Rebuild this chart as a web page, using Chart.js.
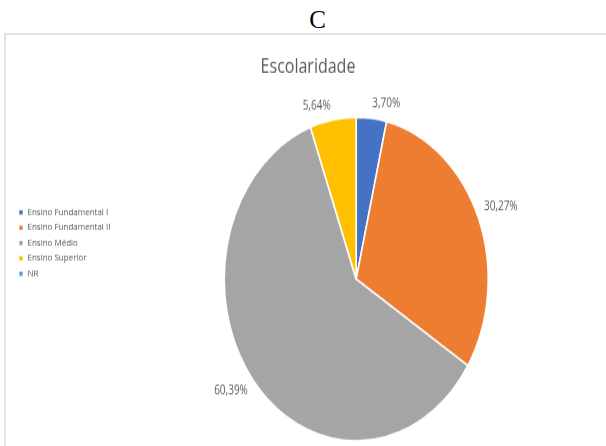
<!DOCTYPE html>
<html>
<head>
<meta charset="utf-8">
<script src="https://cdn.jsdelivr.net/npm/chart.js@4.4.1/dist/chart.umd.min.js"></script>
<style>
  html, body { margin: 0; padding: 0; background: #fff; }
  body { width: 606px; height: 446px; overflow: hidden; position: relative; }
  #caption { position: absolute; left: 317.5px; top: 7px; transform: translateX(-50%);
             font-family: "Liberation Serif", "Times New Roman", serif; font-size: 25px; line-height: 25px; color: #000; }
  #frame { position: absolute; left: 4px; top: 33px; width: 640px; height: 500px;
           border: 2px solid #e2e2e2; box-sizing: border-box; overflow: hidden; }
  #chart { position: absolute; left: 0px; top: 1px; transform-origin: 0 0; transform: scaleY(1.227); }
</style>
</head>
<body>
<div id="caption">C</div>
<div id="frame"><canvas id="chart" width="600" height="351"></canvas></div>
<script>
const chartTitle = 'Escolaridade';
const categories = ['Ensino Fundamental I', 'Ensino Fundamental II', 'Ensino Médio', 'Ensino Superior', 'NR'];
const percentages = [3.70, 30.27, 60.39, 5.64, 0];
const sliceColors = ['#4472C4', '#ED7D31', '#A5A5A5', '#FFC000', '#5B9BD5'];

const boxShift = {
  id: 'boxShift',
  afterLayout(chart, args, opts) {
    const lg = chart.legend;
    if (lg) { lg.top += opts.legendDy; lg.bottom += opts.legendDy; }
    const tb = chart.titleBlock;
    if (tb) { tb.left += opts.titleDx; tb.right += opts.titleDx; }
  }
};

const pieLabels = {
  id: 'pieLabels',
  afterDatasetsDraw(chart, args, opts) {
    const ctx = chart.ctx;
    const meta = chart.getDatasetMeta(0);
    const data = chart.data.datasets[0].data;
    ctx.save();
    ctx.font = opts.fontSize + 'px ' + opts.fontFamily;
    ctx.fillStyle = opts.color;
    ctx.textAlign = 'center';
    ctx.textBaseline = 'middle';
    meta.data.forEach((arc, i) => {
      const v = data[i];
      if (!v) return;
      const p = arc.getProps(['x', 'y', 'startAngle', 'endAngle', 'outerRadius'], true);
      const mid = (p.startAngle + p.endAngle) / 2 + (opts.nudge[i] || 0) * Math.PI / 180;
      const text = v.toFixed(2).replace('.', ',') + '%';
      const w = ctx.measureText(text).width;
      const h = opts.boxHeight;
      const c = Math.cos(mid), s = Math.sin(mid);
      const d = p.outerRadius + opts.gap + Math.abs(c) * w / 2 + Math.abs(s) * h / 2;
      ctx.fillText(text, p.x + d * c, p.y + d * s);
    });
    ctx.restore();
  }
};

new Chart(document.getElementById('chart'), {
  type: 'pie',
  data: {
    labels: categories,
    datasets: [{
      data: percentages,
      backgroundColor: sliceColors,
      borderColor: '#ffffff',
      borderWidth: 1.6
    }]
  },
  options: {
    responsive: false,
    animation: false,
    radius: 132,
    layout: { padding: { left: 8, right: 14, top: 0, bottom: 0 } },
    plugins: {
      title: {
        display: true,
        text: chartTitle,
        color: '#595959',
        font: { family: '"Open Sans"', size: 16, weight: 'normal' },
        padding: { top: 16, bottom: 10 }
      },
      legend: {
        position: 'left',
        align: 'center',
        labels: {
          boxWidth: 5,
          boxHeight: 5,
          padding: 4.5,
          color: '#595959',
          font: { family: '"Open Sans"', size: 8 }
        }
      },
      tooltip: { enabled: false },
      boxShift: { legendDy: -6.8, titleDx: 5 },
      pieLabels: { fontSize: 10, fontFamily: '"Open Sans"', color: '#595959', gap: 7, boxHeight: 8, nudge: [5.2, 0, 2.9, -5.5, 0] }
    }
  },
  plugins: [boxShift, pieLabels]
});
</script>
</body>
</html>
